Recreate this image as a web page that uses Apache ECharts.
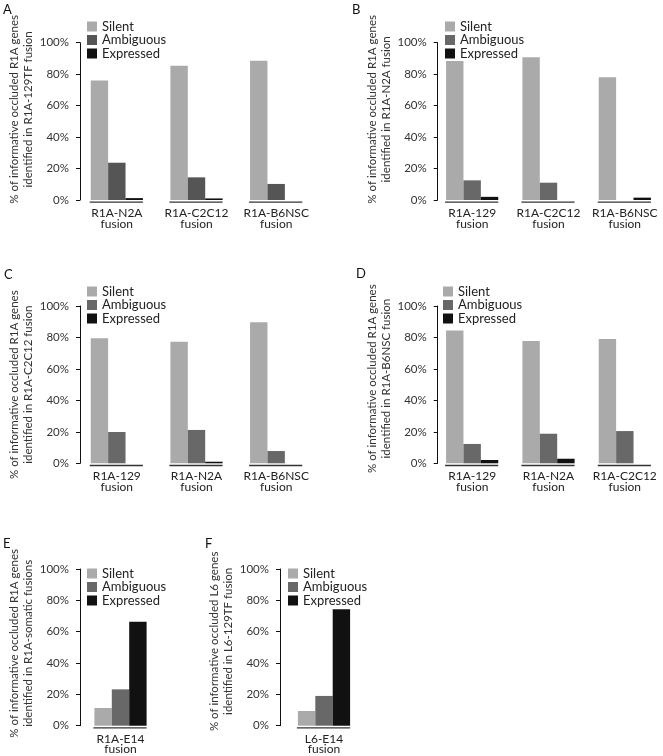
<!DOCTYPE html>
<html>
<head>
<meta charset="utf-8">
<script src="https://cdn.jsdelivr.net/npm/echarts@6/dist/echarts.min.js"></script>
<style>
html,body{margin:0;padding:0;background:#fff;}
#chart{width:663px;height:756px;}
</style>
</head>
<body>
<div id="chart"></div>
<script>
// ---------- data ----------
var seriesNames = ['Silent', 'Ambiguous', 'Expressed'];
var yTicks = [0, 20, 40, 60, 80, 100];

var aCats = ['R1A-N2A\nfusion', 'R1A-C2C12\nfusion', 'R1A-B6NSC\nfusion'];
var aSilent = [76, 85.4, 88.6];
var aAmbig = [23.7, 14.4, 10.2];
var aExpr = [1.2, 1.0, 0];

var bCats = ['R1A-129\nfusion', 'R1A-C2C12\nfusion', 'R1A-B6NSC\nfusion'];
var bSilent = [88.4, 90.7, 78];
var bAmbig = [12.5, 11, 0];
var bExpr = [2, 0, 1.5];

var cCats = ['R1A-129\nfusion', 'R1A-N2A\nfusion', 'R1A-B6NSC\nfusion'];
var cSilent = [79.5, 77.3, 89.6];
var cAmbig = [19.9, 21.2, 7.8];
var cExpr = [0, 1, 0];

var dCats = ['R1A-129\nfusion', 'R1A-N2A\nfusion', 'R1A-C2C12\nfusion'];
var dSilent = [84.5, 77.7, 79];
var dAmbig = [12.3, 18.8, 20.5];
var dExpr = [2.1, 2.9, 0];

var eCats = ['R1A-E14\nfusion'];
var eSilent = [11.3];
var eAmbig = [23.2];
var eExpr = [66.4];

var fCats = ['L6-E14\nfusion'];
var fSilent = [9.4];
var fAmbig = [19];
var fExpr = [74.3];

var panelLetters = ['A', 'B', 'C', 'D', 'E', 'F'];
var yTitles = [
  '% of informative occluded R1A genes\nidentified in R1A-129TF fusion',
  '% of informative occluded R1A genes\nidentified in R1A-N2A fusion',
  '% of informative occluded R1A genes\nidentified in R1A-C2C12 fusion',
  '% of informative occluded R1A genes\nidentified in R1A-B6NSC fusion',
  '% of informative occluded R1A genes\nidentified in R1A-somatic fusions',
  '% of informative occluded L6 genes\nidentified in L6-129TF fusion'
];

// ---------- layout / style ----------
var FONT = 'Lato';
var BAR_W = 17.4;
var panels = [
  {cats: aCats, vals: [aSilent, aAmbig, aExpr], grid: {left: 77, top: 42.7, width: 239, height: 157.3}, yOff: -3, legend: {left: 87, top: 20}, letter: [3, 3], shift: 24, colors: ['#aaaaaa', '#555555', '#111111']},
  {cats: bCats, vals: [bSilent, bAmbig, bExpr], grid: {left: 434, top: 42.7, width: 239, height: 157.3}, yOff: -3.7, legend: {left: 445, top: 20}, letter: [352, 3], shift: 24, colors: ['#aaaaaa', '#686868', '#111111']},
  {cats: cCats, vals: [cSilent, cAmbig, cExpr], grid: {left: 77, top: 306, width: 239, height: 157.3}, yOff: -3, legend: {left: 87, top: 285}, letter: [4, 268], shift: 0, colors: ['#aaaaaa', '#686868', '#111111']},
  {cats: dCats, vals: [dSilent, dAmbig, dExpr], grid: {left: 434, top: 306, width: 239, height: 157.3}, yOff: -3.7, legend: {left: 443, top: 285}, letter: [356, 267], shift: 12, colors: ['#aaaaaa', '#686868', '#111111']},
  {cats: eCats, vals: [eSilent, eAmbig, eExpr], grid: {left: 80, top: 569, width: 81, height: 156.7}, yOff: 0, legend: {left: 87, top: 567}, letter: [3, 537], shift: 8, colors: ['#aaaaaa', '#686868', '#111111']},
  {cats: fCats, vals: [fSilent, fAmbig, fExpr], grid: {left: 284, top: 569, width: 80, height: 156.7}, yOff: 4, legend: {left: 288, top: 567}, letter: [205, 537], shift: 12, colors: ['#aaaaaa', '#686868', '#111111']}
];

var grids = [], xAxes = [], yAxes = [], series = [], legends = [], graphics = [];

panels.forEach(function (p, i) {
  grids.push(Object.assign({containLabel: false}, p.grid));
  xAxes.push({
    type: 'category', gridIndex: i, data: p.cats,
    axisLine: {show: false}, axisTick: {show: false}, splitLine: {show: false},
    axisLabel: {interval: 0, margin: 8, fontFamily: FONT, fontSize: 12, lineHeight: 10.5, color: '#222'}
  });
  yAxes.push({
    type: 'value', gridIndex: i, min: yTicks[0], max: yTicks[yTicks.length - 1], interval: 20,
    offset: p.yOff,
    axisLine: {show: true, lineStyle: {color: '#111', width: 1}},
    axisTick: {show: true, length: 4, lineStyle: {color: '#111'}},
    splitLine: {show: false},
    axisLabel: {formatter: '{value}%', margin: 11, fontFamily: FONT, fontSize: 11.5, color: '#333'},
    name: yTitles[i], nameLocation: 'middle', nameGap: 32, nameRotate: 90,
    nameTextStyle: {fontFamily: FONT, fontSize: 11.5, lineHeight: 14.5, color: '#333', align: 'center', padding: [0, 0, 0, p.shift]}
  });
  seriesNames.forEach(function (n, k) {
    series.push({
      type: 'bar', name: n, xAxisIndex: i, yAxisIndex: i, data: p.vals[k],
      barWidth: BAR_W, barGap: '0%', itemStyle: {color: p.colors[k]}, silent: true
    });
  });
  series.push({
    type: 'custom', name: 'underline' + i, xAxisIndex: i, yAxisIndex: i,
    data: p.cats.map(function (c, j) { return [j, 0]; }),
    encode: {x: 0, y: 1}, silent: true, z: 1,
    renderItem: function (params, api) {
      var pt = api.coord([api.value(0), api.value(1)]);
      var half = BAR_W * 1.5;
      return {
        type: 'line',
        shape: {x1: pt[0] - half - 1, y1: pt[1] + 2.2, x2: pt[0] + half, y2: pt[1] + 2.2},
        style: {stroke: '#333', lineWidth: 1.3}
      };
    }
  });
  legends.push({
    show: true, orient: 'vertical', left: p.legend.left, top: p.legend.top, padding: 0,
    itemWidth: 10, itemHeight: 10, itemGap: 0.5, icon: 'rect', selectedMode: false,
    textStyle: {fontFamily: FONT, fontSize: 13, lineHeight: 13, color: '#222'},
    data: seriesNames.map(function (n, k) { return {name: n, itemStyle: {color: p.colors[k]}}; })
  });
  graphics.push({
    type: 'text', left: p.letter[0], top: p.letter[1],
    style: {text: panelLetters[i], font: '13px ' + FONT, fill: '#111'}
  });
});

var chart = echarts.init(document.getElementById('chart'), null, {renderer: 'canvas'});
chart.setOption({
  animation: false,
  backgroundColor: '#ffffff',
  grid: grids, xAxis: xAxes, yAxis: yAxes, series: series, legend: legends,
  graphic: graphics
});
</script>
</body>
</html>
